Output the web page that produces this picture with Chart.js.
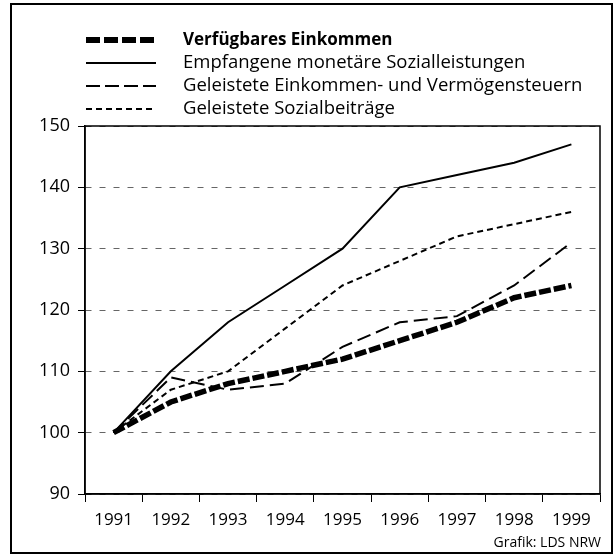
<!DOCTYPE html>
<html><head><meta charset="utf-8">
<script src="https://cdn.jsdelivr.net/npm/chart.js@4.4.1/dist/chart.umd.min.js"></script>
<style>html,body{margin:0;padding:0;background:#fff}#wrap{width:616px;height:558px;position:relative}</style>
</head><body><div id="wrap"><canvas id="c" width="616" height="558"></canvas></div>
<script>
const years = ['1991','1992','1993','1994','1995','1996','1997','1998','1999'];
const verfuegbaresEinkommen = [100,105,108,110,112,115,118,122,124];
const sozialleistungen = [100,110,118,124,130,140,142,144,147];
const einkommenVermoegensteuern = [100,109,107,108,114,118,119,124,131];
const sozialbeitraege = [100,107,110,117,124,128,132,134,136];
const yTickValues = [90,100,110,120,130,140,150];
const seriesNames = ['Verfügbares Einkommen','Empfangene monetäre Sozialleistungen','Geleistete Einkommen- und Vermögensteuern','Geleistete Sozialbeiträge'];
const sourceText = 'Grafik: LDS NRW';

const FONT = '"Open Sans", "Noto Sans", sans-serif';

const legendStyles = [
  {width:6, dash:[14,4], bold:true, size:17},
  {width:2, dash:[], bold:false, size:18.5},
  {width:2, dash:[14,5], bold:false, size:18.5},
  {width:2, dash:[6,4], bold:false, size:18.5}
];

const framePlugin = {
  id:'frame',
  afterDraw(chart){
    const ctx = chart.ctx, a = chart.chartArea;
    ctx.save();
    ctx.strokeStyle = '#000'; ctx.lineWidth = 1.5; ctx.setLineDash([]);
    ctx.strokeRect(a.left, a.top, a.right - a.left, a.bottom - a.top);
    ctx.lineWidth = 2;
    ctx.strokeRect(11, 4, 601, 549);
    const rowY = [40, 63, 86, 109];
    chart.data.datasets.forEach((ds, i) => {
      const st = legendStyles[i];
      ctx.beginPath();
      ctx.lineWidth = st.width; ctx.setLineDash(st.dash); ctx.lineCap = 'butt';
      ctx.moveTo(86, rowY[i]); ctx.lineTo(156, rowY[i]); ctx.stroke();
      ctx.setLineDash([]);
      ctx.fillStyle = '#000';
      ctx.font = (st.bold ? 'bold ' : '') + st.size + 'px ' + FONT;
      ctx.textBaseline = 'middle'; ctx.textAlign = 'left';
      ctx.fillText(ds.label, 183, rowY[i]);
    });
    ctx.font = '14px ' + FONT;
    ctx.textAlign = 'right'; ctx.textBaseline = 'middle';
    ctx.fillText(sourceText, 601, 543);
    ctx.restore();
  }
};

new Chart(document.getElementById('c'), {
  type:'line',
  data:{
    labels: years,
    datasets:[
      {label: seriesNames[0], data: verfuegbaresEinkommen, borderColor:'#000', borderWidth:5.5, borderDash:[12,3], pointRadius:0, tension:0, order:0},
      {label: seriesNames[1], data: sozialleistungen, borderColor:'#000', borderWidth:2, pointRadius:0, tension:0, order:1},
      {label: seriesNames[2], data: einkommenVermoegensteuern, borderColor:'#000', borderWidth:2, borderDash:[14,6], pointRadius:0, tension:0, order:2},
      {label: seriesNames[3], data: sozialbeitraege, borderColor:'#000', borderWidth:2, borderDash:[6,4], pointRadius:0, tension:0, order:3}
    ]
  },
  options:{
    responsive:false, animation:false, devicePixelRatio:1,
    layout:{padding:{left:0, right:16, top:126, bottom:0}},
    plugins:{legend:{display:false}, tooltip:{enabled:false}},
    scales:{
      x:{
        offset:true,
        grid:{offset:true, drawOnChartArea:false, drawTicks:true, tickLength:8, color:'#000', tickColor:'#000', lineWidth:1},
        border:{display:true, color:'#000', width:1.5},
        ticks:{color:'#000', font:{family:FONT, size:17}, padding:8, maxRotation:0, autoSkip:false},
        afterFit(s){ s.height = 64; }
      },
      y:{
        min:90, max:150,
        afterBuildTicks(s){ s.ticks = yTickValues.map(v => ({value:v})); },
        grid:{color:'#666', lineWidth:1, tickLength:7, tickColor:'#000', drawTicks:true},
        border:{display:true, color:'#000', width:1.5, dash:[6,8]},
        ticks:{color:'#000', font:{family:FONT, size:18}, padding:8},
        afterFit(s){ s.width = 85; }
      }
    }
  },
  plugins:[framePlugin]
});
</script>
</body></html>
